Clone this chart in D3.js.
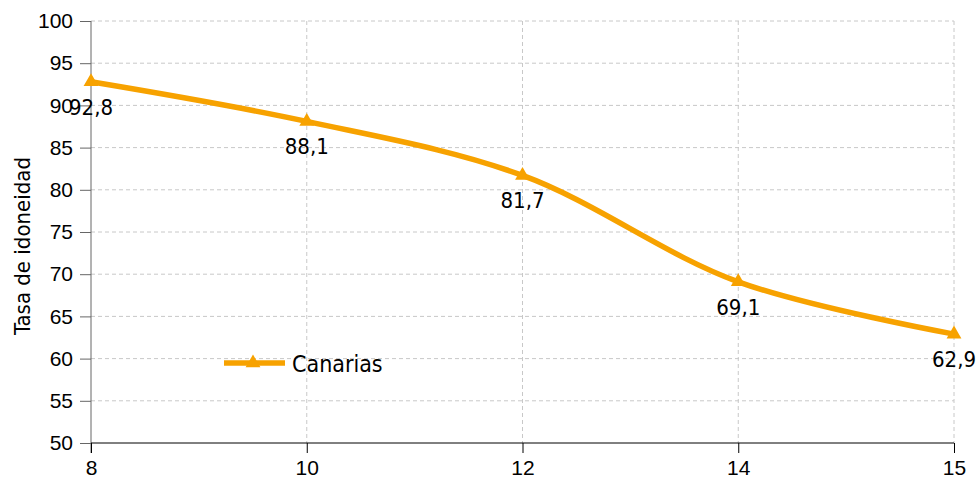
<!DOCTYPE html>
<html>
<head>
<meta charset="utf-8">
<script src="https://cdn.jsdelivr.net/npm/d3@7"></script>
<style>
body { margin: 0; background: #fff; }
</style>
</head>
<body>
<script>
// data
var edades = ["8", "10", "12", "14", "15"];
var canarias = [92.8, 88.1, 81.7, 69.1, 62.9];
var yTicks = [50, 55, 60, 65, 70, 75, 80, 85, 90, 95, 100];

var width = 979, height = 481;
var pLeft = 91, pRight = 954, pTop = 21, pBottom = 443;
var naranja = "#F7A200";
var fuente = "DejaVu Sans Condensed, DejaVu Sans, sans-serif";
var fuenteEje = "Liberation Sans, Arial, sans-serif";

var svg = d3.select("body").append("svg")
    .attr("width", width)
    .attr("height", height);

var x = d3.scalePoint().domain(edades).range([pLeft, pRight]).padding(0);
var y = d3.scaleLinear().domain([50, 100]).range([pBottom, pTop]);

// grid
svg.append("g").selectAll("line.h")
    .data(yTicks.filter(function(d) { return d > 50; }))
    .enter().append("line")
    .attr("x1", pLeft).attr("x2", pRight)
    .attr("y1", function(d) { return y(d); })
    .attr("y2", function(d) { return y(d); })
    .attr("stroke", "#c8c8c8")
    .attr("stroke-dasharray", "4,3");

svg.append("g").selectAll("line.v")
    .data(edades.slice(1))
    .enter().append("line")
    .attr("x1", function(d) { return x(d); })
    .attr("x2", function(d) { return x(d); })
    .attr("y1", pTop).attr("y2", pBottom)
    .attr("stroke", "#c8c8c8")
    .attr("stroke-dasharray", "4,3");

// axes
var yAxis = svg.append("g")
    .attr("transform", "translate(" + pLeft + ",0)")
    .call(d3.axisLeft(y).tickValues(yTicks).tickSize(11).tickPadding(7));
yAxis.select(".domain").attr("stroke", "#666").attr("d", "M0," + pTop + "V" + (pBottom + 10));
yAxis.selectAll(".tick line").attr("stroke", "#666");
yAxis.selectAll("text")
    .attr("font-family", fuenteEje)
    .attr("font-size", 21)
    .attr("fill", "#000");

var xAxis = svg.append("g")
    .attr("transform", "translate(0," + pBottom + ")")
    .call(d3.axisBottom(x).tickSize(10).tickPadding(7));
xAxis.select(".domain").attr("stroke", "#000").attr("d", "M" + pLeft + ",0H" + pRight);
xAxis.selectAll(".tick line").attr("stroke", "#000");
xAxis.selectAll("text")
    .attr("font-family", fuenteEje)
    .attr("font-size", 21)
    .attr("fill", "#000");

// y title
svg.append("text")
    .attr("transform", "translate(30," + 246 + ") rotate(-90)")
    .attr("text-anchor", "middle")
    .attr("font-family", fuente)
    .attr("font-size", 22)
    .text("Tasa de idoneidad");

// line
var line = d3.line()
    .x(function(d, i) { return x(edades[i]); })
    .y(function(d) { return y(d); })
    .curve(d3.curveCatmullRom.alpha(0.5));

svg.append("path")
    .datum(canarias)
    .attr("d", line)
    .attr("fill", "none")
    .attr("stroke", naranja)
    .attr("stroke-width", 5.5)
    .attr("stroke-linejoin", "round");

var tri = d3.symbol().type(d3.symbolTriangle).size(95);

svg.append("g").selectAll("path")
    .data(canarias)
    .enter().append("path")
    .attr("d", tri)
    .attr("transform", function(d, i) { return "translate(" + x(edades[i]) + "," + y(d) + ")"; })
    .attr("fill", naranja);

// value labels
svg.append("g").selectAll("text")
    .data(canarias)
    .enter().append("text")
    .attr("x", function(d, i) { return x(edades[i]); })
    .attr("y", function(d) { return y(d) + 33; })
    .attr("text-anchor", "middle")
    .attr("font-family", fuente)
    .attr("font-size", 22)
    .attr("fill", "#000")
    .text(function(d) { return String(d).replace(".", ","); });

// legend
var lg = svg.append("g").attr("transform", "translate(224,363)");
lg.append("line").attr("x1", 0).attr("x2", 61).attr("y1", 0).attr("y2", 0)
    .attr("stroke", naranja).attr("stroke-width", 5.5);
lg.append("path").attr("d", tri).attr("transform", "translate(29,0)").attr("fill", naranja);
lg.append("text").attr("x", 68).attr("y", 9)
    .attr("font-family", fuente)
    .attr("font-size", 23)
    .text("Canarias");
</script>
</body>
</html>
